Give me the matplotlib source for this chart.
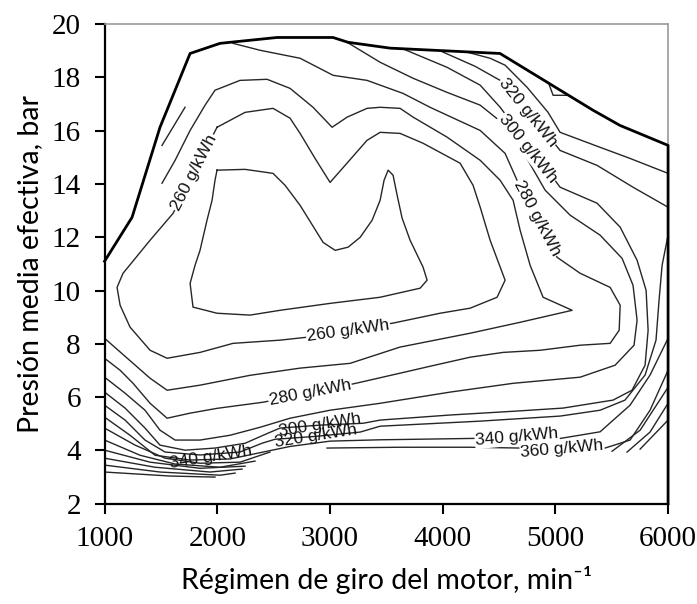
import matplotlib
matplotlib.use("Agg")
import matplotlib.pyplot as plt

# Full-load curve (thick envelope), rpm vs bar
FULL_RPM = [1000, 1244, 1492, 1759, 2025, 2530, 3027, 3160, 3533, 4509, 5334, 5573, 6000, 6000]
FULL_BAR = [11.1, 12.75, 16.13, 18.9, 19.28, 19.5, 19.5, 19.32, 19.1, 18.9, 16.77, 16.2, 15.45, 2.0]

# iso-BSFC lines
L250_RPM = [1998, 2247, 2495, 2602, 2735, 2939, 3046, 3161, 3268, 3374, 3445, 3480, 3516, 3560, 3596,
            3640, 3711, 3826, 3862, 3800, 3445, 3001, 2557, 2291, 1998, 1785, 1759, 1803, 1847, 1909,
            1954, 1980, 1998]
L250_BAR = [14.52, 14.55, 14.40, 13.95, 13.20, 11.81, 11.51, 11.63, 12.00, 12.64, 13.39, 14.14, 14.52,
            14.33, 13.58, 12.72, 11.89, 10.88, 10.39, 10.09, 9.75, 9.52, 9.26, 9.08, 9.15, 9.38, 10.27,
            10.95, 11.51, 12.64, 13.39, 14.14, 14.52]

L260_RPM = [1998, 2247, 2495, 2646, 2735, 2868, 3001, 3134, 3329, 3445, 3622, 3826, 4155, 4270, 4333,
            4421, 4554, 4483, 4244, 3977, 3560, 3179, 2797, 2557, 2140, 1847, 1555, 1404, 1226, 1138,
            1111, 1164, 1404, 1608, 1803, 1998]
L260_BAR = [16.13, 16.69, 16.84, 16.47, 15.90, 14.96, 14.06, 14.70, 15.64, 15.94, 15.90, 15.53, 14.78,
            13.95, 13.13, 11.89, 10.39, 9.75, 9.34, 9.15, 8.78, 8.51, 8.25, 8.14, 8.02, 7.68, 7.46, 7.76,
            8.63, 9.45, 10.12, 10.65, 11.89, 12.90, 14.52, 16.13]

L270_RPM = [1510, 1626, 1759, 1892, 1980, 2202, 2442, 2646, 2850, 3019, 3152, 3329, 3445, 3622, 3738,
            4039, 4333, 4510, 4625, 4687, 4776, 4891, 5149, 4687, 4244, 3622, 3179, 2735, 2291, 1847,
            1555, 1404, 1253, 1000]
L270_BAR = [14.03, 14.89, 16.01, 16.96, 17.52, 17.89, 17.93, 17.59, 16.88, 16.13, 16.51, 16.84, 16.88,
            16.84, 16.51, 15.76, 14.89, 14.14, 13.39, 12.27, 10.95, 9.75, 9.26, 8.81, 8.40, 7.88, 7.27,
            7.09, 6.82, 6.45, 6.26, 6.71, 7.27, 8.21]

L280_RPM = [2140, 2380, 2735, 3028, 3329, 3649, 3888, 4333, 4554, 4660, 4838, 5015, 5220, 5486, 5575,
            5566, 5486, 5220, 4865, 4536, 4244, 3888, 3622, 3240, 2824, 2406, 1998, 1759, 1555, 1404,
            1253, 1138, 1000]
L280_BAR = [19.28, 19.02, 18.72, 18.08, 17.89, 17.40, 16.88, 16.01, 15.15, 14.14, 12.72, 11.25, 10.65,
            10.12, 9.45, 8.51, 8.02, 7.95, 7.76, 7.68, 7.50, 7.16, 6.90, 6.53, 6.15, 5.81, 5.58, 5.40,
            5.21, 5.77, 6.52, 7.01, 7.46]
L280B_RPM = [1510, 1714]
L280B_BAR = [15.45, 16.88]

L290_RPM = [3152, 3445, 3737, 4039, 4333, 4554, 4731, 4909, 5131, 5397, 5592, 5689, 5725, 5698, 5530,
            5220, 4625, 4066, 3445, 3001, 2646, 2380, 2113, 1847, 1626, 1492, 1359, 1182, 1000]
L290_BAR = [19.32, 18.57, 17.97, 17.44, 16.96, 16.21, 15.08, 13.77, 12.83, 12.08, 11.21, 10.20, 8.89,
            7.95, 7.20, 6.75, 6.52, 6.19, 5.77, 5.51, 5.21, 4.87, 4.57, 4.39, 4.39, 4.76, 5.51, 6.15, 6.75]

L300_RPM = [3649, 4039, 4333, 4510, 4776, 5042, 5370, 5575, 5725, 5805, 5823, 5796, 5680, 5512, 5068,
            4625, 4066, 3445, 3294, 2912, 2557, 2451, 2247, 1980, 1714, 1492, 1359, 1182, 1000]
L300_BAR = [19.07, 18.38, 17.71, 16.88, 15.38, 13.88, 13.28, 12.38, 11.14, 10.01, 8.51, 7.20, 6.26,
            5.89, 5.59, 5.47, 5.33, 5.14, 5.02, 4.95, 4.84, 4.65, 4.27, 4.09, 4.01, 4.20, 4.84, 5.59, 6.19]

L320_RPM = [3977, 4287, 4510, 4776, 5042, 5370, 5689, 6000]
L320_BAR = [19.0, 18.42, 17.89, 16.65, 15.26, 14.70, 13.88, 13.13]

L330_RPM = [4217, 4421, 4554, 4749, 4935, 5042, 5370, 5663, 6000]
L330_BAR = [18.95, 18.72, 18.46, 17.63, 16.69, 15.94, 15.42, 14.96, 14.40]

LOOP_RPM = [4944, 4980, 5113]
LOOP_BAR = [17.74, 17.33, 17.33]

L320B_RPM = [6000, 5947, 5920, 5893, 5796, 5618, 5397, 5042, 4333, 3445, 3268, 2877, 2513, 2397, 2202,
             1847, 1537, 1359, 1182, 1000]
L320B_BAR = [12.08, 10.95, 9.64, 8.14, 6.83, 5.89, 5.51, 5.29, 5.10, 4.91, 4.69, 4.53, 4.42, 4.27, 3.94,
             3.83, 3.94, 4.39, 5.14, 5.70]

L340_RPM = [1000, 1226, 1448, 1759, 2113, 2362, 2646, 3001, 3445, 4244, 4660, 5042, 5397, 5663, 5840, 6000]
L340_BAR = [5.25, 4.57, 3.82, 3.64, 3.68, 3.90, 4.15, 4.35, 4.40, 4.45, 4.48, 4.45, 4.70, 5.70, 6.83, 8.21]

L360_RPM = [2974, 3622, 4244, 4687, 5441, 5663, 5840, 6000]
L360_BAR = [4.09, 4.12, 4.12, 4.09, 4.09, 4.39, 5.51, 7.01]

# short pieces at the lower right corner
S1_RPM, S1_BAR = [5503, 5752, 6000], [3.97, 4.76, 6.37]
S2_RPM, S2_BAR = [5636, 5840, 6000], [3.94, 4.69, 5.77]
S3_RPM, S3_BAR = [5752, 6000], [4.05, 5.14]

# low-load bundle on the left
F1_RPM, F1_BAR = [1000, 1271, 1537, 1847, 2202, 2468], [4.84, 4.20, 3.71, 3.52, 3.56, 3.94]
F2_RPM, F2_BAR = [1000, 1315, 1626, 2025, 2335], [4.39, 3.82, 3.49, 3.37, 3.60]
F3_RPM, F3_BAR = [1000, 1404, 1847, 2247], [4.01, 3.56, 3.33, 3.41]
F4_RPM, F4_BAR = [1000, 1448, 1936, 2220], [3.71, 3.37, 3.19, 3.30]
F5_RPM, F5_BAR = [1000, 1492, 2025, 2158], [3.45, 3.19, 3.07, 3.15]
F6_RPM, F6_BAR = [1000, 1581, 1980], [3.19, 3.04, 3.00]

LINES = [
    (L250_RPM, L250_BAR), (L260_RPM, L260_BAR), (L270_RPM, L270_BAR), (L280_RPM, L280_BAR),
    (L280B_RPM, L280B_BAR), (L290_RPM, L290_BAR), (L300_RPM, L300_BAR), (L320_RPM, L320_BAR),
    (L330_RPM, L330_BAR), (LOOP_RPM, LOOP_BAR), (L320B_RPM, L320B_BAR), (L340_RPM, L340_BAR),
    (L360_RPM, L360_BAR), (S1_RPM, S1_BAR), (S2_RPM, S2_BAR), (S3_RPM, S3_BAR),
    (F1_RPM, F1_BAR), (F2_RPM, F2_BAR), (F3_RPM, F3_BAR), (F4_RPM, F4_BAR), (F5_RPM, F5_BAR),
    (F6_RPM, F6_BAR),
]

# inline labels
LABEL_TEXT = ["260 g/kWh", "260 g/kWh", "280 g/kWh", "300 g/kWh", "320 g/kWh", "340 g/kWh",
              "360 g/kWh", "340 g/kWh", "320 g/kWh", "300 g/kWh", "280 g/kWh"]
LABEL_RPM = [1794, 3161, 2824, 2912, 2877, 1945, 5060, 4660, 4758, 4758, 4838]
LABEL_BAR = [14.44, 8.48, 6.15, 4.95, 4.53, 3.75, 4.05, 4.50, 16.69, 15.34, 12.72]
LABEL_ROT = [63, 8, 11, 9, 9, 9, 5, 5, -51, -51, -62]
LABEL_BOX = [True, True, True, False, False, False, True, True, True, True, True]

X_TICKS = [1000, 2000, 3000, 4000, 5000, 6000]
Y_TICKS = [2, 4, 6, 8, 10, 12, 14, 16, 18, 20]

plt.rcParams["font.family"] = "Liberation Serif"

fig = plt.figure(figsize=(6.97, 6.04), dpi=100)
ax = fig.add_axes([0.150, 0.166, 0.8085, 0.794])

for rpm, bar in LINES:
    ax.plot(rpm, bar, color="#262626", lw=1.0, zorder=2, solid_joinstyle="round")
ax.plot(FULL_RPM, FULL_BAR, color="black", lw=2.0, zorder=4, clip_on=False)

for txt, x, y, rot, box in zip(LABEL_TEXT, LABEL_RPM, LABEL_BAR, LABEL_ROT, LABEL_BOX):
    kw = dict(boxstyle="square,pad=0.05", facecolor="white", edgecolor="none") if box else None
    ax.text(x, y, txt, rotation=rot, rotation_mode="anchor", ha="center", va="center",
            fontsize=12.5, family="Liberation Sans", color="#111", bbox=kw, zorder=3)

ax.set_xlim(1000, 6000)
ax.set_ylim(2, 20)
ax.set_xticks(X_TICKS)
ax.set_yticks(Y_TICKS)
ax.tick_params(direction="out", length=7, width=1.5, labelsize=21)
ax.tick_params(axis="x", pad=9)
ax.tick_params(axis="y", pad=10)

for side in ["left", "bottom"]:
    ax.spines[side].set_linewidth(1.6)
    ax.spines[side].set_color("black")
for side in ["top", "right"]:
    ax.spines[side].set_linewidth(1.2)
    ax.spines[side].set_color("#9a9a9a")

ax.set_xlabel("Régimen de giro del motor, min⁻¹", family=["Lato", "DejaVu Sans"],
              fontsize=20.5, labelpad=10)
ax.set_ylabel("Presión media efectiva, bar", family=["Lato", "DejaVu Sans"],
              fontsize=20.5, labelpad=6)

fig.savefig("out.png", dpi=100, facecolor="white")
